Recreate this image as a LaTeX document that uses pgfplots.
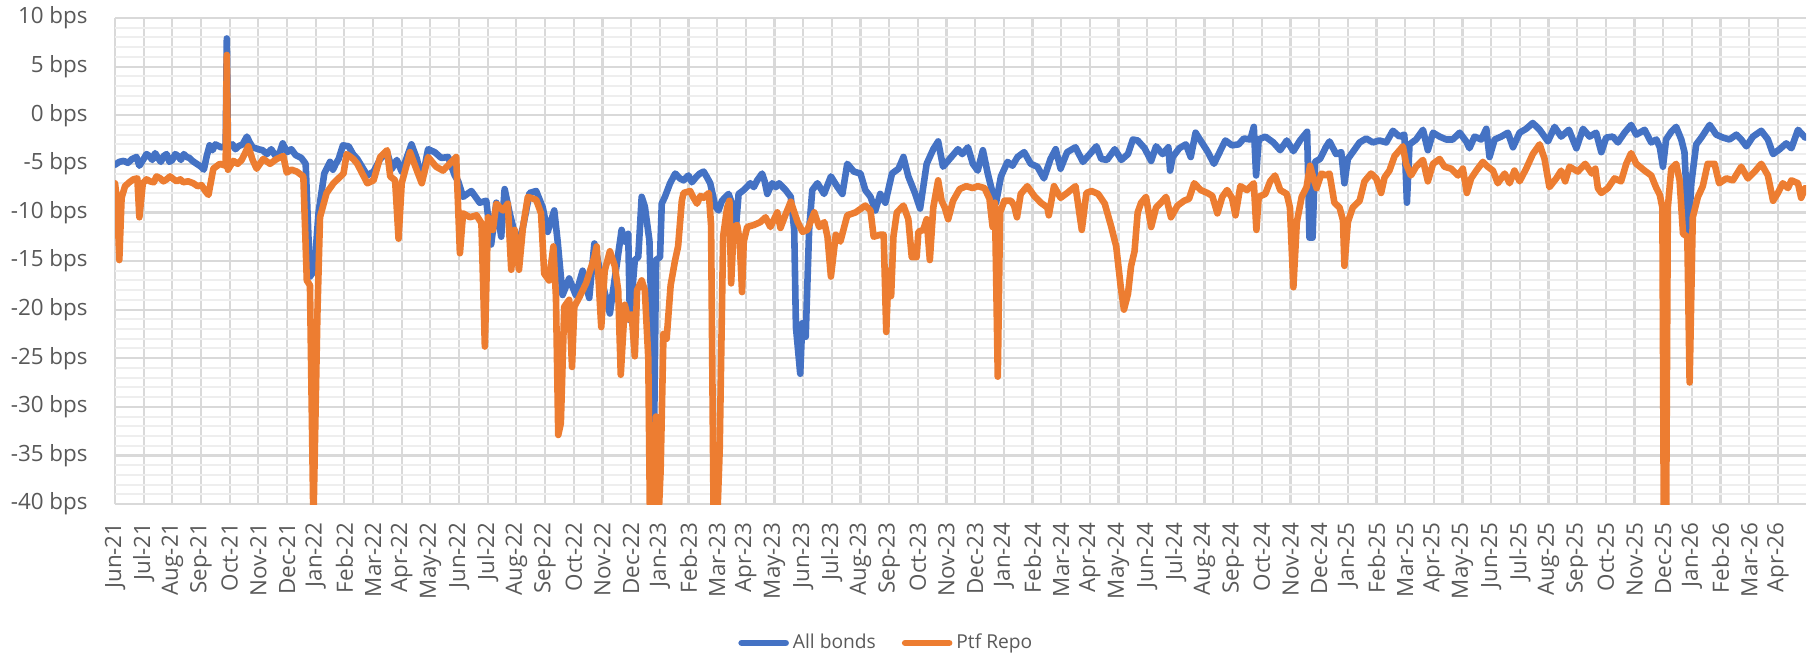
\documentclass[border=0pt]{standalone}
\usepackage{fontspec}
\setmainfont{Open Sans}
\usepackage{pgfplots}
\pgfplotsset{compat=1.18}
\definecolor{bondblue}{HTML}{4472C4}
\definecolor{repoorange}{HTML}{ED7D31}
\definecolor{txtgray}{HTML}{595959}
\definecolor{gridmaj}{HTML}{D9D9D9}
\definecolor{gridmin}{HTML}{EEEEEE}
\begin{document}
\begin{tikzpicture}
\begin{axis}[
  name=main,
  at={(0bp,0bp)}, anchor=south west,
  scale only axis, width=845.5bp, height=243bp,
  xmin=0, xmax=58.98, ymin=-40, ymax=10,
  xtick={0,...,58},
  xticklabels={Jun-21,Jul-21,Aug-21,Sep-21,Oct-21,Nov-21,Dec-21,Jan-22,Feb-22,Mar-22,Apr-22,May-22,Jun-22,Jul-22,Aug-22,Sep-22,Oct-22,Nov-22,Dec-22,Jan-23,Feb-23,Mar-23,Apr-23,May-23,Jun-23,Jul-23,Aug-23,Sep-23,Oct-23,Nov-23,Dec-23,Jan-24,Feb-24,Mar-24,Apr-24,May-24,Jun-24,Jul-24,Aug-24,Sep-24,Oct-24,Nov-24,Dec-24,Jan-25,Feb-25,Mar-25,Apr-25,May-25,Jun-25,Jul-25,Aug-25,Sep-25,Oct-25,Nov-25,Dec-25,Jan-26,Feb-26,Mar-26,Apr-26},
  ytick={-40,-35,...,10},
  yticklabels={-40 bps,-35 bps,-30 bps,-25 bps,-20 bps,-15 bps,-10 bps,-5 bps,0 bps,5 bps,10 bps},
  minor y tick num=4,
  grid=both,
  major grid style={gridmaj, line width=1.1bp},
  minor grid style={gridmin, line width=1.0bp},
  axis line style={draw=none},
  major tick length=0pt, minor tick length=0pt,
  every tick label/.append style={font=\fontsize{11.2bp}{13bp}\selectfont, text=txtgray},
  xticklabel style={rotate=90, anchor=east, inner sep=0pt},
  yticklabel style={anchor=east, inner sep=0pt},
  xticklabel shift=9bp,
  yticklabel shift=13.5bp,
  legend columns=2,
  legend style={at={(0.3684,-0.286)}, anchor=west, draw=none, fill=none, inner sep=0pt,
    font=\fontsize{9.6bp}{11bp}\selectfont, text=txtgray,
    /tikz/every even column/.append style={column sep=11bp}},
  legend image code/.code={\draw[#1, line width=3.3bp, line cap=round] (0bp,0bp) -- (22bp,0bp);},
  every axis plot/.append style={line width=3.3bp, line join=round, line cap=round},
]
\addplot[bondblue] coordinates {
(0.00,-5.1) (0.15,-4.8) (0.30,-4.7) (0.45,-4.9) (0.60,-4.5) (0.75,-4.3) (0.85,-5.2) (1.00,-4.5) (1.10,-4.0) (1.20,-4.2) (1.30,-4.6) (1.40,-3.9) (1.50,-4.4) (1.60,-4.8) (1.70,-4.2) (1.80,-4.0)
(1.90,-4.8) (2.00,-4.6) (2.10,-4.0) (2.20,-4.2) (2.30,-4.6) (2.40,-4.0) (2.50,-4.3) (2.60,-4.4) (2.70,-4.7) (2.85,-5.0) (3.00,-5.3) (3.10,-5.6) (3.20,-4.2) (3.30,-3.1) (3.40,-3.6) (3.50,-3.0) (3.70,-3.3) (3.86,-3.2)
(3.90,7.9) (3.94,-3.3) (4.10,-3.0) (4.20,-3.5) (4.30,-3.2) (4.45,-3.0) (4.60,-2.2) (4.70,-2.8) (4.80,-3.3) (5.00,-3.5) (5.15,-3.6) (5.30,-4.0) (5.45,-3.5) (5.60,-4.2) (5.75,-3.8) (5.85,-2.9)
(6.00,-3.8) (6.15,-3.5) (6.30,-4.1) (6.50,-4.4) (6.65,-5.0) (6.80,-16.6) (6.95,-16.0) (7.10,-10.0) (7.30,-6.0) (7.50,-4.8) (7.60,-5.6) (7.70,-5.0) (7.80,-4.5)
(7.95,-3.1) (8.15,-3.2) (8.30,-4.0) (8.45,-4.5) (8.80,-6.2) (9.02,-5.8) (9.25,-4.5) (9.49,-3.8) (9.66,-5.5) (9.83,-4.6) (10.00,-5.8)
(10.34,-3.0) (10.53,-4.5) (10.70,-6.8) (10.92,-3.5) (11.15,-3.8) (11.38,-4.4) (11.62,-4.3) (11.85,-6.2) (11.97,-6.8) (12.14,-8.4)
(12.43,-7.8) (12.72,-9.0) (12.95,-8.8) (13.12,-13.3) (13.30,-9.0) (13.47,-12.5) (13.59,-7.6) (13.76,-10.0) (14.05,-13.5) (14.23,-11.5)
(14.46,-8.0) (14.69,-7.8) (14.92,-9.5) (15.09,-12.0) (15.32,-9.8) (15.44,-13.0) (15.61,-18.5) (15.84,-16.8) (16.07,-18.5) (16.31,-16.0)
(16.54,-18.8) (16.72,-13.2) (16.98,-17.0) (17.26,-20.4) (17.67,-11.8) (17.78,-13.0) (17.90,-12.2) (17.96,-21.1) (18.13,-14.9) (18.25,-14.6)
(18.37,-8.4) (18.48,-9.4) (18.64,-12.9) (18.72,-21.8) (18.80,-33.4) (18.87,-14.9) (19.01,-14.6) (19.07,-9.1) (19.18,-8.4) (19.36,-7.0)
(19.54,-6.0) (19.70,-6.5) (19.83,-6.7) (20.00,-6.2) (20.12,-6.9) (20.29,-6.3) (20.40,-6.0) (20.53,-5.8) (20.65,-6.4) (20.76,-7.0) (20.94,-9.4) (21.05,-9.8) (21.17,-8.8) (21.40,-8.1)
(21.52,-9.1) (21.64,-12.2) (21.75,-8.1) (21.93,-7.7) (22.16,-7.0) (22.28,-7.4) (22.40,-6.7) (22.57,-6.0) (22.66,-6.8) (22.75,-8.1) (22.92,-7.0) (23.05,-7.4) (23.16,-7.0)
(23.39,-7.7) (23.57,-8.4) (23.69,-11.8) (23.75,-21.8) (23.90,-26.6) (23.97,-21.4) (24.09,-22.8) (24.21,-11.8) (24.32,-7.7) (24.50,-7.0)
(24.73,-8.1) (24.97,-6.3) (25.20,-7.4) (25.37,-8.1) (25.54,-5.0) (25.77,-5.8) (26.00,-6.0) (26.17,-7.7) (26.35,-8.4) (26.52,-9.8)
(26.69,-8.1) (26.87,-9.0) (27.10,-6.0) (27.33,-5.5) (27.50,-4.3) (27.67,-6.3) (27.90,-8.0) (28.08,-9.6) (28.31,-5.0) (28.54,-3.5)
(28.71,-2.7) (28.88,-5.3) (29.17,-4.3) (29.40,-3.5) (29.55,-4.0) (29.75,-3.3) (29.92,-5.0) (30.09,-5.7) (30.27,-3.6) (30.44,-6.0) (30.61,-8.0)
(30.73,-9.0) (30.90,-6.3) (31.13,-4.8) (31.30,-5.2) (31.48,-4.3) (31.71,-3.8) (31.94,-5.0) (32.17,-5.3) (32.40,-6.5) (32.63,-4.5) (32.81,-3.5)
(32.98,-5.5) (33.21,-3.8) (33.50,-3.3) (33.76,-4.8) (34.00,-4.0) (34.23,-3.2) (34.40,-4.5) (34.60,-4.6) (34.87,-3.5) (35.10,-4.6)
(35.33,-4.0) (35.50,-2.5) (35.67,-2.6) (35.91,-3.4) (36.14,-4.7) (36.31,-3.2) (36.54,-4.0) (36.74,-3.3) (36.80,-5.7) (36.89,-4.3)
(37.12,-3.4) (37.35,-3.0) (37.52,-4.3) (37.69,-1.8) (37.86,-2.6) (38.10,-3.7) (38.33,-5.0) (38.56,-3.6) (38.73,-2.6) (38.96,-3.1)
(39.19,-3.0) (39.37,-2.4) (39.60,-2.5) (39.72,-1.2) (39.80,-6.2) (39.89,-2.5) (40.12,-2.2) (40.40,-2.8) (40.64,-3.6) (40.87,-2.6)
(41.10,-3.7) (41.33,-2.6) (41.58,-1.7) (41.66,-12.6) (41.77,-12.6) (41.85,-4.8) (42.03,-4.5) (42.23,-3.3) (42.36,-2.7) (42.59,-4.0)
(42.77,-3.8) (42.88,-7.0) (43.00,-4.5) (43.17,-3.8) (43.41,-2.8) (43.64,-2.4) (43.87,-2.8) (44.10,-2.6) (44.34,-2.8) (44.57,-1.6)
(44.80,-2.2) (44.97,-2.0) (45.06,-9.0) (45.15,-3.0) (45.38,-2.5) (45.62,-1.5) (45.79,-3.6) (45.97,-1.8) (46.20,-2.2) (46.43,-2.5)
(46.66,-2.5) (46.90,-1.8) (47.13,-2.7) (47.24,-3.4) (47.42,-2.2) (47.65,-2.5) (47.83,-1.4) (47.94,-4.3) (48.12,-2.5) (48.35,-2.2)
(48.58,-1.8) (48.76,-3.3) (48.99,-1.8) (49.22,-1.4) (49.45,-0.8) (49.69,-1.5) (49.98,-2.7) (50.21,-1.2) (50.44,-2.2) (50.71,-1.5)
(50.97,-3.4) (51.20,-1.4) (51.43,-2.2) (51.66,-1.8) (51.84,-3.8) (52.01,-2.3) (52.24,-2.2) (52.42,-2.8) (52.65,-1.8) (52.88,-1.0)
(53.06,-2.0) (53.35,-1.5) (53.58,-2.8) (53.76,-2.5) (53.88,-3.3) (53.99,-5.3) (54.10,-2.5) (54.28,-1.7) (54.45,-1.2) (54.63,-2.5)
(54.74,-3.8) (54.88,-12.2) (54.98,-7.0) (55.15,-3.0) (55.33,-2.3) (55.62,-1.0) (55.85,-2.0) (56.08,-2.3) (56.31,-2.5) (56.55,-2.0)
(56.72,-2.5) (56.90,-3.2) (57.13,-2.2) (57.42,-1.6) (57.65,-2.5) (57.83,-4.0) (58.06,-3.5) (58.29,-2.9) (58.47,-3.4) (58.70,-1.5)
(58.95,-2.3)
};
\addlegendentry{All bonds}
\addplot[repoorange] coordinates {
(0.00,-7.0) (0.08,-9.0) (0.15,-14.9) (0.23,-8.5) (0.35,-7.3) (0.50,-6.9) (0.64,-6.6) (0.78,-6.5) (0.85,-10.5) (0.97,-7.0) (1.10,-6.6) (1.22,-6.8)
(1.35,-6.9) (1.45,-6.3) (1.58,-6.5) (1.69,-6.8) (1.80,-6.6) (1.92,-6.3) (2.05,-6.6) (2.15,-6.8) (2.28,-6.6) (2.38,-6.9) (2.55,-6.8) (2.73,-7.0) (2.88,-7.3) (3.02,-7.2) (3.15,-7.8) (3.26,-8.2) (3.43,-5.5) (3.66,-5.0)
(3.86,-5.2) (3.90,6.2) (3.94,-5.6) (4.13,-4.7) (4.28,-5.0) (4.42,-4.6) (4.65,-3.2) (4.80,-4.6) (4.94,-5.5) (5.17,-4.5) (5.41,-5.0) (5.64,-4.5)
(5.87,-4.2) (5.99,-5.9) (6.15,-5.6) (6.34,-5.8) (6.57,-6.3) (6.69,-17.0) (6.80,-17.5) (6.92,-42) (7.06,-20.4) (7.15,-10.5) (7.38,-8.0)
(7.62,-7.0) (7.97,-6.0) (8.08,-4.0) (8.31,-4.5) (8.45,-5.0) (8.80,-7.0) (9.02,-6.7) (9.25,-4.3) (9.49,-3.6) (9.60,-6.3)
(9.77,-6.7) (9.89,-12.7) (10.00,-7.0) (10.29,-3.8) (10.53,-5.7) (10.70,-7.0) (10.92,-4.3) (11.20,-5.3) (11.44,-5.7) (11.67,-5.0)
(11.90,-4.3) (12.03,-14.2) (12.14,-10.1) (12.38,-10.5) (12.61,-10.3) (12.78,-11.1) (12.90,-23.8) (13.01,-10.5) (13.18,-11.8) (13.30,-9.1)
(13.53,-9.8) (13.70,-9.1) (13.82,-15.9) (13.94,-11.8) (14.09,-15.9) (14.23,-11.5) (14.40,-8.4) (14.69,-8.7) (14.86,-10.1) (14.97,-16.3)
(15.14,-17.0) (15.29,-13.5) (15.38,-18.7) (15.46,-32.9) (15.55,-31.7) (15.67,-19.7) (15.84,-19.0) (15.94,-25.9) (16.02,-19.7) (16.20,-18.7)
(16.43,-17.3) (16.72,-14.6) (16.80,-13.5) (16.96,-21.8) (17.08,-16.0) (17.26,-14.0) (17.43,-15.5) (17.55,-18.0) (17.64,-26.7) (17.78,-19.5)
(17.90,-21.0) (18.02,-20.5) (18.13,-24.8) (18.21,-18.0) (18.37,-17.0) (18.48,-18.0) (18.60,-25.0) (18.66,-42) (18.78,-42) (18.87,-31.0)
(18.95,-42) (19.03,-36.6) (19.13,-22.5) (19.24,-23.0) (19.38,-17.5) (19.53,-15.0) (19.64,-13.5) (19.77,-8.8) (19.83,-8.0) (20.06,-7.8)
(20.18,-8.5) (20.30,-9.1) (20.42,-8.3) (20.53,-8.5) (20.71,-8.0) (20.79,-11.3) (20.88,-42) (21.00,-42) (21.09,-34.5) (21.21,-12.5) (21.35,-9.5) (21.43,-8.8)
(21.49,-17.3) (21.58,-11.5) (21.70,-11.3) (21.79,-13.0) (21.87,-18.2) (21.93,-13.0) (22.05,-11.5) (22.28,-11.3) (22.51,-11.0) (22.69,-10.5)
(22.86,-11.5) (23.10,-10.0) (23.21,-11.6) (23.39,-10.2) (23.57,-8.9) (23.81,-11.0) (23.98,-12.0) (24.15,-11.8) (24.39,-10.0) (24.56,-11.5)
(24.74,-11.0) (24.85,-12.5) (24.97,-16.6) (25.14,-12.3) (25.30,-13.0) (25.54,-10.3) (25.83,-10.0) (26.17,-9.3) (26.35,-9.8) (26.46,-12.5)
(26.69,-12.3) (26.81,-12.3) (26.90,-22.3) (26.98,-16.0) (27.07,-18.6) (27.15,-12.5) (27.27,-10.0) (27.50,-9.3) (27.67,-10.7) (27.79,-14.6)
(27.96,-14.6) (28.02,-12.0) (28.19,-11.8) (28.31,-10.7) (28.42,-14.9) (28.54,-9.5) (28.71,-6.7) (28.83,-8.8) (28.94,-9.5) (29.06,-10.7)
(29.23,-8.8) (29.46,-7.6) (29.69,-7.3) (29.92,-7.5) (30.09,-7.3) (30.33,-7.5) (30.50,-8.6) (30.61,-11.5) (30.69,-9.0) (30.79,-26.9)
(30.87,-10.0) (31.02,-8.8) (31.25,-8.8) (31.36,-9.3) (31.46,-10.5) (31.59,-8.1) (31.82,-7.3) (32.06,-8.3) (32.29,-9.0) (32.52,-9.5)
(32.57,-10.3) (32.75,-7.3) (32.98,-8.5) (33.21,-8.0) (33.50,-7.3) (33.72,-11.8) (33.88,-8.0) (34.06,-7.8) (34.29,-8.1) (34.52,-9.1)
(34.75,-11.5) (34.92,-13.5) (35.08,-17.7) (35.19,-20.0) (35.33,-18.4) (35.44,-15.5) (35.56,-14.0) (35.67,-10.0) (35.79,-9.0) (35.96,-8.4)
(36.14,-11.5) (36.31,-9.5) (36.48,-9.0) (36.66,-8.4) (36.83,-10.5) (37.06,-9.3) (37.29,-8.8) (37.46,-8.6) (37.64,-7.0) (37.87,-7.7)
(38.10,-8.0) (38.27,-8.3) (38.45,-10.1) (38.62,-8.4) (38.79,-7.7) (38.96,-8.5) (39.08,-10.3) (39.25,-7.3) (39.48,-7.7) (39.72,-7.0)
(39.81,-11.8) (39.89,-8.4) (40.12,-8.1) (40.29,-6.8) (40.46,-6.2) (40.64,-7.7) (40.87,-8.1) (40.98,-9.5) (41.10,-17.7) (41.22,-11.0)
(41.39,-8.4) (41.56,-7.4) (41.68,-5.2) (41.80,-6.5) (41.91,-7.5) (42.08,-6.0) (42.23,-6.2) (42.36,-6.0) (42.53,-9.0) (42.71,-9.5)
(42.83,-10.8) (42.88,-15.5) (43.00,-11.0) (43.17,-9.5) (43.41,-8.8) (43.58,-6.8) (43.81,-6.0) (43.99,-6.5) (44.16,-8.0) (44.28,-6.4)
(44.45,-5.7) (44.63,-4.2) (44.92,-3.2) (45.03,-5.0) (45.20,-6.2) (45.38,-5.3) (45.62,-4.6) (45.79,-6.8) (45.97,-5.0) (46.20,-4.5)
(46.37,-5.3) (46.60,-5.5) (46.84,-6.2) (47.01,-5.5) (47.15,-8.0) (47.30,-6.5) (47.48,-5.7) (47.71,-4.8) (47.88,-5.3) (48.06,-5.7)
(48.23,-7.0) (48.47,-6.0) (48.64,-7.0) (48.81,-5.7) (48.99,-6.8) (49.22,-5.5) (49.45,-4.0) (49.69,-3.0) (49.86,-4.5) (50.03,-7.4)
(50.27,-6.5) (50.44,-5.7) (50.58,-6.8) (50.73,-5.3) (51.02,-5.8) (51.28,-5.0) (51.51,-6.0) (51.63,-5.5) (51.72,-7.5) (51.84,-8.0)
(52.07,-7.5) (52.30,-6.5) (52.53,-6.8) (52.71,-5.0) (52.88,-3.9) (53.06,-5.0) (53.35,-5.7) (53.58,-6.2) (53.76,-7.5) (53.88,-8.2)
(53.97,-9.5) (54.02,-42) (54.10,-42) (54.16,-9.5) (54.28,-5.5) (54.45,-5.0) (54.57,-6.7) (54.69,-12.2) (54.84,-12.5) (54.92,-27.5)
(55.03,-10.5) (55.21,-8.4) (55.38,-7.3) (55.55,-5.0) (55.79,-5.0) (55.95,-7.0) (56.20,-6.5) (56.43,-6.7) (56.72,-5.3) (56.95,-6.5)
(57.19,-5.8) (57.42,-5.0) (57.65,-6.2) (57.83,-8.8) (58.00,-8.0) (58.17,-7.0) (58.35,-7.5) (58.47,-6.7) (58.70,-7.0) (58.81,-8.5)
(58.95,-7.5)
};
\addlegendentry{Ptf Repo}
\end{axis}
\pgfresetboundingbox
\useasboundingbox ([xshift=-57.5bp,yshift=-75.5bp]main.south west) rectangle ([xshift=849.5bp,yshift=252bp]main.south west);
\end{tikzpicture}
\end{document}
